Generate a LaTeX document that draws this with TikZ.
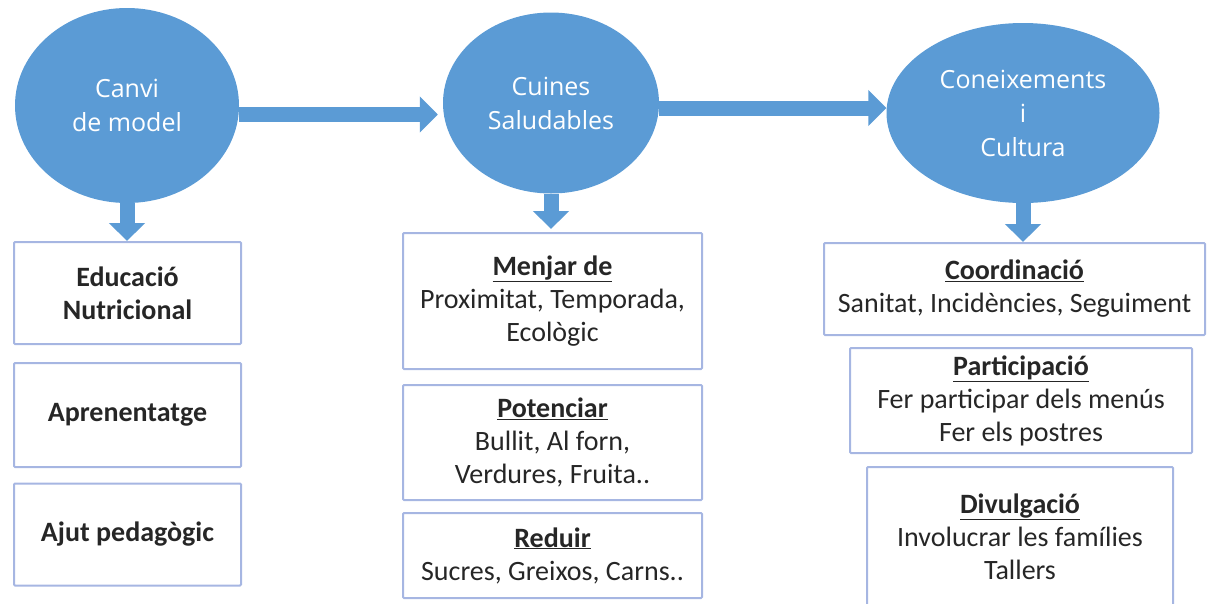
\documentclass[tikz,border=0pt]{standalone}
\usepackage{fontspec}
\setmainfont{Carlito}
\newfontfamily\circfont{Open Sans}
\usepackage{tikz}
\usetikzlibrary{shapes.geometric,arrows.meta}
\definecolor{myblue}{HTML}{5B9BD5}
\definecolor{myframe}{HTML}{A6B6E2}
\definecolor{mytext}{HTML}{262626}
\newcommand{\myhead}[1]{\underline{\textbf{#1}}}

\begin{document}
\begin{tikzpicture}[x=1pt, y=-1pt]
\tikzstyle{mycirc} = [ellipse, fill = myblue, inner sep = 0pt, text = white, align = center, font = \circfont\fontsize{25}{34}\selectfont]
\tikzstyle{mybox} = [rectangle, draw = myframe, line width = 2pt, rounded corners = 1pt, align = center, text = mytext, font = \fontsize{28}{33}\selectfont]
\tikzstyle{bigarrow} = [draw = myblue, line width = 15pt, -{Triangle[length=18pt, width=35pt]}, myblue]
\useasboundingbox (0,0) rectangle (1207,603);
\clip (0,0) rectangle (1207,603);

\node [mycirc, minimum width = 224pt, minimum height = 195pt] (canvi) at (127,105.5) {Canvi\\de model};
\node [mycirc, minimum width = 216pt, minimum height = 181pt] (cuines) at (551,103) {Cuines\\Saludables};
\node [mycirc, minimum width = 273pt, minimum height = 180pt] (coneix) at (1023,113) {Coneixements\\i\\Cultura};

\node [mybox, minimum width = 227pt, minimum height = 102pt] (educ) at (127.5,293) {\textbf{Educació}\\\textbf{Nutricional}};
\node [mybox, minimum width = 227pt, minimum height = 104pt] (apren) at (127.5,415) {\textbf{Aprenentatge}};
\node [mybox, minimum width = 227pt, minimum height = 102pt] (ajut) at (127.5,534.5) {\textbf{Ajut pedagògic}};

\node [mybox, minimum width = 299pt, minimum height = 136pt] (menjar) at (552.5,301) {\myhead{Menjar de}\\Proximitat, Temporada,\\Ecològic};
\node [mybox, minimum width = 299pt, minimum height = 115pt] (poten) at (552.5,442.5) {\myhead{Potenciar}\\Bullit, Al forn,\\Verdures, Fruita..};
\node [mybox, minimum width = 299pt, minimum height = 85pt] (reduir) at (552.5,555.5) {\myhead{Reduir}\\Sucres, Greixos, Carns..};

\node [mybox, minimum width = 381pt, minimum height = 92pt] (coord) at (1014.5,289) {\myhead{Coordinació}\\Sanitat, Incidències, Seguiment};
\node [mybox, minimum width = 342pt, minimum height = 105pt] (partic) at (1021,400.5) {\myhead{Participació}\\Fer participar dels menús\\Fer els postres};
\node [mybox, minimum width = 306pt, minimum height = 139pt] (divul) at (1020,536.5) {\myhead{Divulgació}\\Involucrar les famílies\\Tallers};

\coordinate (row1) at (0,114.5);
\coordinate (row2) at (0,108);
\draw [bigarrow, shorten >=5pt] (canvi.east |- row1) -- (cuines.west |- row1);
\draw [bigarrow] (cuines.east |- row2) -- (coneix.west |- row2);
\draw [bigarrow] (canvi.south) -- (canvi.south |- educ.north);
\draw [bigarrow, shorten >=3pt] (cuines.south) -- (cuines.south |- menjar.north);
\draw [bigarrow] (coneix.south) -- (coneix.south |- coord.north);

\end{tikzpicture}
\end{document}
